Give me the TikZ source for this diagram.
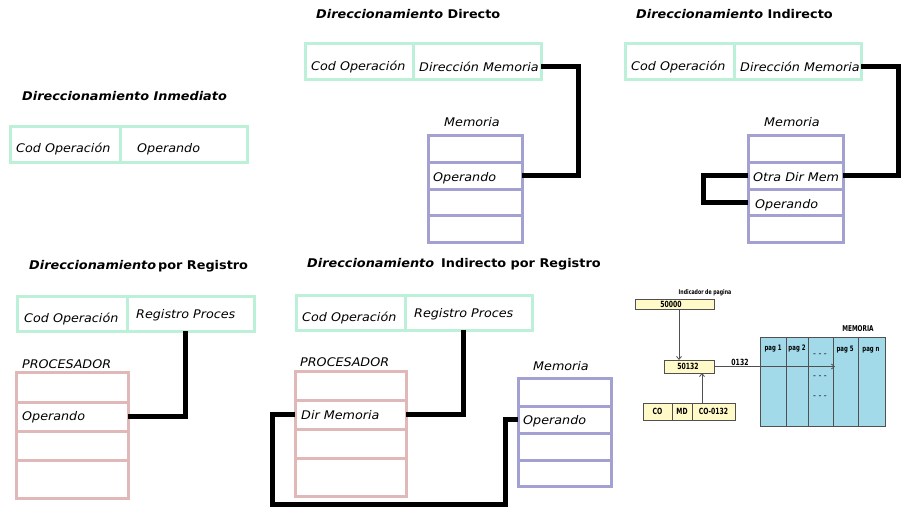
\documentclass[tikz,border=0pt]{standalone}
\usepackage{fontspec}
\setmainfont[FakeStretch=1.07]{DejaVu Sans}
\newfontfamily\smallf[FakeStretch=0.72]{DejaVu Sans}
\newfontfamily\dashf{DejaVu Sans}
\usetikzlibrary{arrows.meta}
\definecolor{mint}{RGB}{188,240,216}
\definecolor{lav}{RGB}{163,160,210}
\definecolor{pinkc}{RGB}{224,184,184}
\definecolor{yel}{RGB}{255,250,200}
\definecolor{cyanm}{RGB}{163,218,234}
\definecolor{sgray}{RGB}{80,80,80}
\tikzset{
  cell/.style={draw, line width=3pt, anchor=north west, inner sep=0pt, outer sep=0pt},
  gcell/.style={cell, draw=mint},
  mcell/.style={cell, draw=lav},
  pcell/.style={cell, draw=pinkc},
  txt/.style={anchor=west, inner sep=0pt, font=\fontsize{11.9}{14}\selectfont\itshape},
  ttl/.style={anchor=west, inner sep=0pt, font=\fontsize{12}{14}\selectfont\bfseries},
  conn/.style={line width=5pt, draw=black},
  sbox/.style={draw=sgray, fill=yel, line width=0.8pt, anchor=north west, inner sep=0pt, outer sep=0pt},
  scell/.style={draw=sgray, fill=cyanm, line width=0.8pt, anchor=north west, inner sep=0pt, outer sep=0pt, minimum height=89},
  stxt/.style={font=\smallf\fontsize{6.5}{7}\selectfont\bfseries, inner sep=0pt},
  btxt/.style={font=\smallf\fontsize{8.5}{9}\selectfont\bfseries, inner sep=0pt},
  ptxt/.style={font=\smallf\fontsize{7.5}{8}\selectfont\bfseries, inner sep=0pt},
  dtxt/.style={font=\dashf\fontsize{8}{9}\selectfont, inner sep=0pt},
  sarr/.style={draw=sgray, line width=0.8pt, -{Straight Barb[length=3pt,width=5pt]}}
}
\begin{document}
\begin{tikzpicture}[x=1pt,y=-1pt]
\useasboundingbox (0,0) rectangle (906,509);
\fill[white] (0,0) rectangle (906,509);

% ---------- Inmediato ----------
\node[ttl] (t1) at (22,96) {\itshape Direccionamiento Inmediato};
\node[gcell, minimum width=110, minimum height=36] (ic1) at (10,126) {};
\node[gcell, minimum width=127, minimum height=36] (ic2) at (120,126) {};
\node[txt] (ic1t) at (16,149) {Cod Operación};
\node[txt] (ic2t) at (137,149) {Operando};

% ---------- Directo ----------
\node[ttl] (t2) at (316,14) {\textit{Direccionamiento} Directo};
\node[gcell, minimum width=108, minimum height=36] (dc1) at (305,43) {};
\node[gcell, minimum width=128, minimum height=36] (dc2) at (413,43) {};
\node[txt] (dc1t) at (311,67) {Cod Operación};
\node[txt] (dc2t) at (419,67) {Dirección Memoria};
\node[txt] (dml) at (444,122) {Memoria};
\node[mcell, minimum width=94, minimum height=27] (dm1) at (428,135) {};
\node[mcell, minimum width=94, minimum height=27] (dm2) at (428,162) {};
\node[mcell, minimum width=94, minimum height=26] (dm3) at (428,189) {};
\node[mcell, minimum width=94, minimum height=27] (dm4) at (428,215) {};
\node[txt] (dm2t) at (433,178) {Operando};
\draw[conn] ([yshift=-5pt]dc2.east) -- ++(37,0) |- (dm2.east);

% ---------- Indirecto ----------
\node[ttl] (t3) at (636,14) {\textit{Direccionamiento} Indirecto};
\node[gcell, minimum width=109, minimum height=36] (xc1) at (625,43) {};
\node[gcell, minimum width=127, minimum height=36] (xc2) at (734,43) {};
\node[txt] (xc1t) at (631,67) {Cod Operación};
\node[txt] (xc2t) at (740,67) {Dirección Memoria};
\node[txt] (xml) at (764,122) {Memoria};
\node[mcell, minimum width=95, minimum height=27] (xm1) at (748,135) {};
\node[mcell, minimum width=95, minimum height=27] (xm2) at (748,162) {};
\node[mcell, minimum width=95, minimum height=26] (xm3) at (748,189) {};
\node[mcell, minimum width=95, minimum height=27] (xm4) at (748,215) {};
\node[txt] (xm2t) at (753,177) {Otra Dir Mem};
\node[txt] (xm3t) at (755,205) {Operando};
\draw[conn] ([yshift=-5pt]xc2.east) -- ++(37,0) |- (xm2.east);
\draw[conn] (xm2.west) -- ++(-45,0) |- (xm3.west);

% ---------- por Registro ----------
\node[ttl] (t4) at (29,266) {\textit{Direccionamiento}\,por Registro};
\node[gcell, minimum width=110, minimum height=35] (rc1) at (17,296) {};
\node[gcell, minimum width=127, minimum height=35] (rc2) at (127,296) {};
\node[txt] (rc1t) at (24,319) {Cod Operación};
\node[txt] (rc2t) at (136,315) {Registro Proces};
\node[txt] (rpl) at (22,364) {PROCESADOR};
\node[pcell, minimum width=112, minimum height=30] (rp1) at (16,372) {};
\node[pcell, minimum width=112, minimum height=29] (rp2) at (16,402) {};
\node[pcell, minimum width=112, minimum height=29] (rp3) at (16,431) {};
\node[pcell, minimum width=112, minimum height=38] (rp4) at (16,460) {};
\node[txt] (rp2t) at (22,417) {Operando};
\draw[conn] ([xshift=-5pt]rc2.south) |- (rp2.east);

% ---------- Indirecto por Registro ----------
\node[ttl] (t5) at (307,264) {\textit{Direccionamiento}\hspace{7pt}Indirecto por Registro};
\node[gcell, minimum width=109, minimum height=35] (jc1) at (296,295) {};
\node[gcell, minimum width=127, minimum height=35] (jc2) at (405,295) {};
\node[txt] (jc1t) at (302,318) {Cod Operación};
\node[txt] (jc2t) at (414,314) {Registro Proces};
\node[txt] (jpl) at (300,362) {PROCESADOR};
\node[pcell, minimum width=111, minimum height=29] (jp1) at (295,371) {};
\node[pcell, minimum width=111, minimum height=29] (jp2) at (295,400) {};
\node[pcell, minimum width=111, minimum height=29] (jp3) at (295,429) {};
\node[pcell, minimum width=111, minimum height=38] (jp4) at (295,458) {};
\node[txt] (jp2t) at (301,415) {Dir Memoria};
\node[txt] (jml) at (533,366) {Memoria};
\node[mcell, minimum width=93, minimum height=28] (jm1) at (518,378) {};
\node[mcell, minimum width=93, minimum height=27] (jm2) at (518,406) {};
\node[mcell, minimum width=93, minimum height=27] (jm3) at (518,433) {};
\node[mcell, minimum width=93, minimum height=26] (jm4) at (518,460) {};
\node[txt] (jm2t) at (523,421) {Operando};
\draw[conn] ([xshift=-5pt]jc2.south) |- (jp2.east);
\coordinate (lowL) at (272,504);
\coordinate (lowR) at (505,504);
\draw[conn] (jp2.west) -| (lowL) -- (lowR) |- (jm2.west);

% ---------- Paginacion ----------
\node[stxt] (ipl) at (705,293) {Indicador de pagina};
\node[sbox, minimum width=79, minimum height=10] (b1) at (635,299) {};
\node[btxt] (b1t) at (671,304) {50000};
\node[sbox, minimum width=50, minimum height=13] (b2) at (664,360) {};
\node[btxt] (b2t) at (688,366.5) {50132};
\node[sbox, minimum width=29, minimum height=17] (b3a) at (643,403) {};
\node[sbox, minimum width=20, minimum height=17] (b3b) at (672,403) {};
\node[sbox, minimum width=43, minimum height=17] (b3c) at (692,403) {};
\node[btxt] (b3at) at (b3a.center) {CO};
\node[btxt] (b3bt) at (b3b.center) {MD};
\node[btxt] (b3ct) at (b3c.center) {CO-0132};
\node[stxt, font=\smallf\fontsize{8}{9}\selectfont\bfseries] (meml) at (858,329) {MEMORIA};
\node[scell, minimum width=26] (pg1) at (760,337) {};
\node[scell, minimum width=22] (pg2) at (786,337) {};
\node[scell, minimum width=25] (pg3) at (808,337) {};
\node[scell, minimum width=25] (pg4) at (833,337) {};
\node[scell, minimum width=27] (pg5) at (858,337) {};
\node[ptxt] (pg1t) at (773,349) {pag 1};
\node[ptxt] (pg2t) at (797,349) {pag 2};
\node[ptxt] (pg4t) at (845,350) {pag 5};
\node[ptxt] (pg5t) at (871,350) {pag n};
\node[dtxt] (d1) at (820,355) {- - -};
\node[dtxt] (d2) at (820,377) {- - -};
\node[dtxt] (d3) at (820,397) {- - -};
\node[btxt] (offl) at (740,362) {0132};
\draw[sarr] ([xshift=4.5pt]b1.south) -- ([xshift=4.5pt]b1.south |- b2.north);
\draw[sarr] ([xshift=-11.5pt]b3c.north) -- ([xshift=-11.5pt]b3c.north |- b2.south);
\coordinate (tipA) at (835,366.5);
\draw[sarr] (b2.east) -- (tipA);
\end{tikzpicture}
\end{document}
